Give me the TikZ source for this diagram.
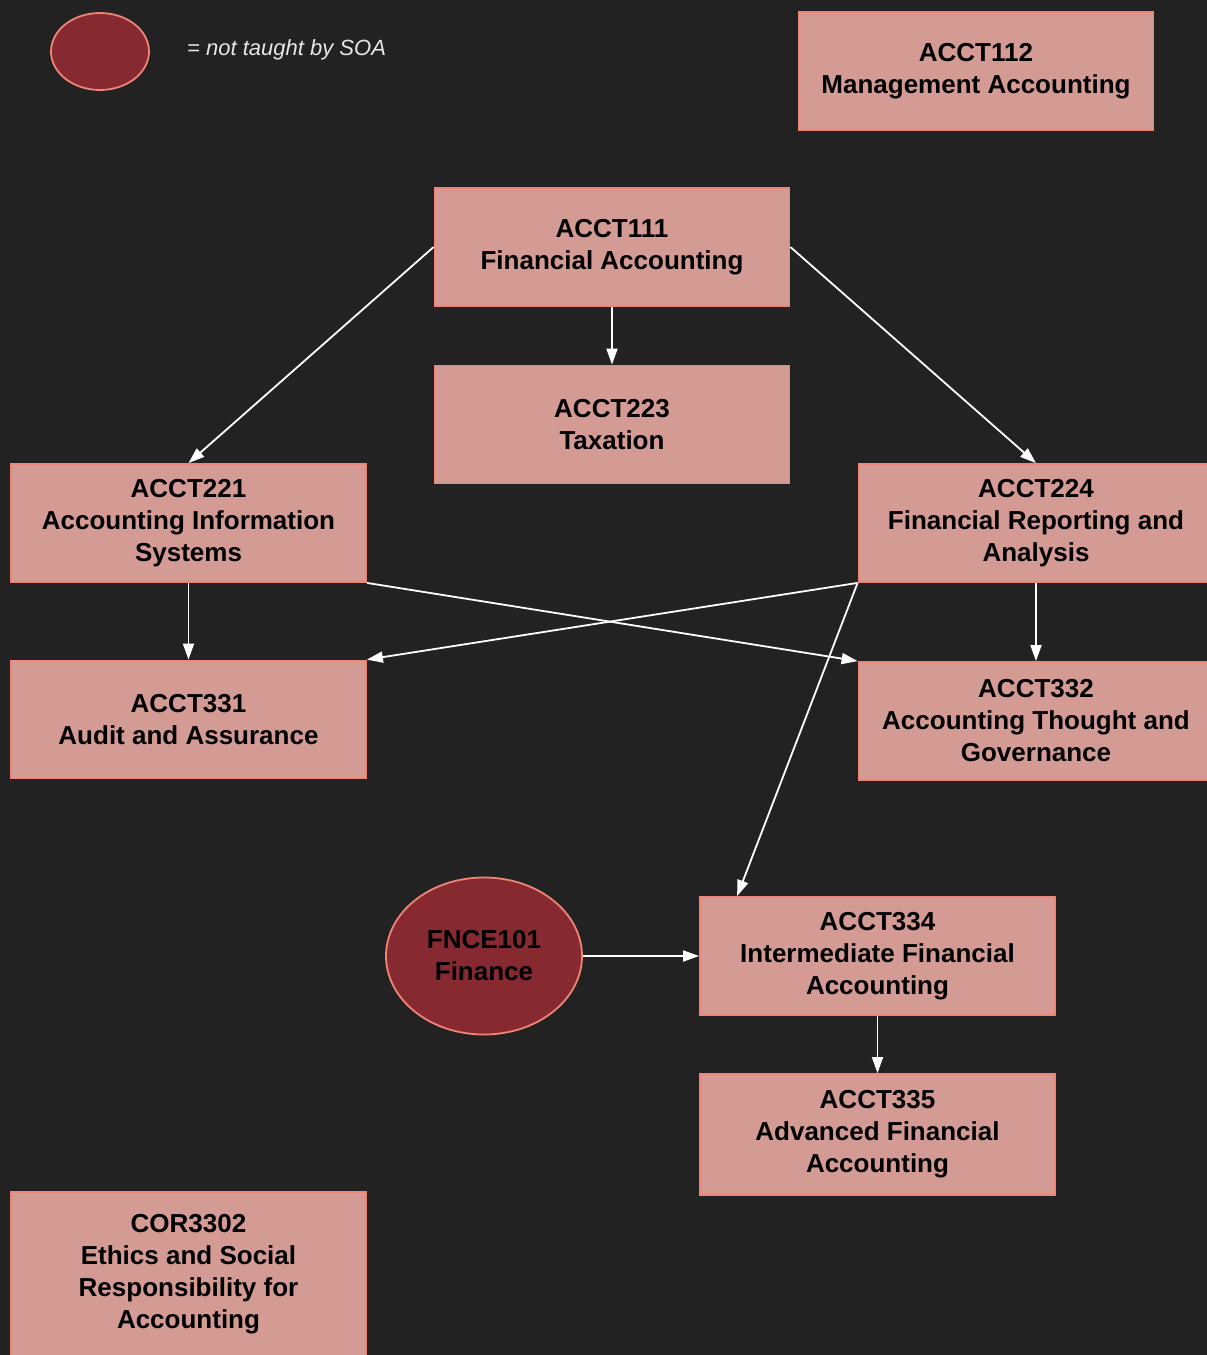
\documentclass[tikz,border=0pt]{standalone}
\usepackage{fontspec}
\setmainfont{Liberation Sans}
\usetikzlibrary{arrows.meta,calc,shapes.geometric}
\definecolor{bgc}{HTML}{222222}
\definecolor{boxfill}{HTML}{D49A94}
\definecolor{boxline}{HTML}{F08474}
\definecolor{ellfill}{HTML}{862930}
\definecolor{legtext}{HTML}{E6E6E6}
\tikzset{
  course/.style={draw=boxline, line width=1.8pt, fill=boxfill, rectangle,
    minimum width=355pt, minimum height=118pt, align=center, inner sep=0pt,
    font=\fontsize{26}{32}\selectfont\bfseries, text=black},
  notsoa/.style={draw=boxline, line width=1.8pt, fill=ellfill, ellipse, inner sep=0pt,
    align=center, font=\fontsize{26}{32}\selectfont\bfseries, text=black},
  link/.style={draw=white, line width=1.8pt, -{Triangle[length=16pt,width=11pt]}}
}
\begin{document}
\begin{tikzpicture}[x=1pt,y=-1pt]
\fill[bgc] (0,0) rectangle (1207,1355);
\useasboundingbox (0,0) rectangle (1207,1355);
% legend
\node[notsoa, minimum width=98pt, minimum height=77pt] (leg) at (100,51.5) {};
\node[anchor=west, text=legtext, font=\fontsize{22}{26}\selectfont\itshape, inner sep=0pt] (legt) at (187,50) {= not taught by SOA};
% courses
\node[course] (a112) at (976,71) {ACCT112\\Management Accounting};
\node[course] (a111) at (612,247) {ACCT111\\Financial Accounting};
\node[course] (a223) at (612,424.5) {ACCT223\\Taxation};
\node[course] (a221) at (188.5,523) {ACCT221\\Accounting Information\\Systems};
\node[course] (a224) at (1036,523) {ACCT224\\Financial Reporting and\\Analysis};
\node[course] (a331) at (188.5,719.5) {ACCT331\\Audit and Assurance};
\node[course] (a332) at (1036,721) {ACCT332\\Accounting Thought and\\Governance};
\node[notsoa, minimum width=196pt, minimum height=157pt] (f101) at (484,956) {FNCE101\\Finance};
\node[course] (a334) at (877.5,956) {ACCT334\\Intermediate Financial\\Accounting};
\node[course, minimum height=121pt] (a335) at (877.5,1134.5) {ACCT335\\Advanced Financial\\Accounting};
\node[course, minimum height=164pt] (c3302) at (188.5,1274) {COR3302\\Ethics and Social\\Responsibility for\\Accounting};
% connectors
\coordinate (a334in) at ($(a334.north west)+(38,0)$);
\draw[link] (a111.west) -- (a221.north);
\draw[link] (a111.east) -- (a224.north);
\draw[link] (a111.south) -- (a223.north);
\draw[link] (a221.south) -- (a331.north);
\draw[link] (a221.south east) -- (a332.north west);
\draw[link] (a224.south west) -- (a331.north east);
\draw[link] (a224.south west) -- (a334in);
\draw[link] (a224.south) -- (a332.north);
\draw[link] (f101.east) -- (a334.west);
\draw[link] (a334.south) -- (a335.north);
\end{tikzpicture}
\end{document}
